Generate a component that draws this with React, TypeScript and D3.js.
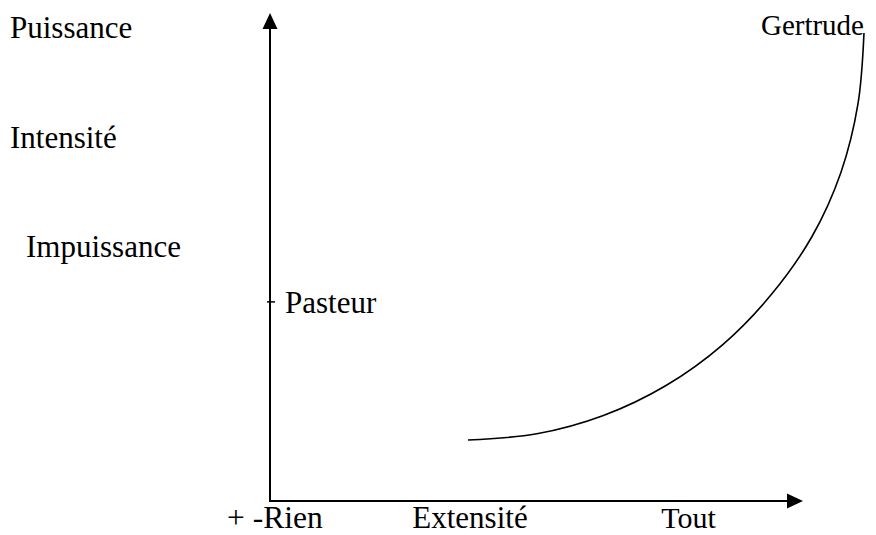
import { useEffect, useRef } from 'react';
import * as d3 from 'd3';

// Left-hand labels (vertical scale of power), baseline level on the y scale
const yLabels = ['Puissance', 'Intensité', 'Impuissance'];
const yLabelLevels = [9.49, 7.24, 5.01];

// Bottom labels (extent scale)
const xLabels = ['+ -Rien', 'Extensité', 'Tout'];
const xLabelPositions = [-0.806, 2.67, 7.34];

// Marked point on the vertical axis
const pasteurLevel = 4.08;

// Curve (x: extent 0..10, y: power 0..10)
const curveX = [3.715, 5.006, 6.255, 7.43, 8.49, 9.405, 10.169, 10.713, 11.032, 11.144];
const curveY = [1.25, 1.377, 1.752, 2.367, 3.201, 4.23, 5.42, 6.738, 8.141, 9.59];

export default function App() {
  const svgRef = useRef<SVGSVGElement>(null);
  const width = 876;
  const height = 535;

  useEffect(() => {
    if (!svgRef.current) return;
    const svg = d3.select(svgRef.current);
    svg.selectAll('*').remove();

    const x = d3.scaleLinear().domain([0, 10]).range([270, 803]);
    const y = d3.scaleLinear().domain([0, 10]).range([501, 13]);
    const font = "'Liberation Serif', 'Times New Roman', Times, serif";

    // Axes
    const arrowLen = 16;
    const arrowHalf = 7.5;
    svg.append('line')
      .attr('x1', x(0)).attr('y1', y(0))
      .attr('x2', x(0)).attr('y2', y(10) + arrowLen - 1)
      .attr('stroke', '#000').attr('stroke-width', 2);
    svg.append('path')
      .attr('d', `M${x(0)},${y(10)} L${x(0) - arrowHalf},${y(10) + arrowLen} L${x(0) + arrowHalf},${y(10) + arrowLen} Z`)
      .attr('fill', '#000');
    svg.append('line')
      .attr('x1', x(0) - 1).attr('y1', y(0))
      .attr('x2', x(10) - arrowLen + 1).attr('y2', y(0))
      .attr('stroke', '#000').attr('stroke-width', 2);
    svg.append('path')
      .attr('d', `M${x(10)},${y(0)} L${x(10) - arrowLen},${y(0) - arrowHalf} L${x(10) - arrowLen},${y(0) + arrowHalf} Z`)
      .attr('fill', '#000');

    // Curve
    const pts: [number, number][] = curveX.map((v, i) => [v, curveY[i]]);
    const line = d3.line<[number, number]>()
      .x(d => x(d[0]))
      .y(d => y(d[1]))
      .curve(d3.curveCatmullRom);
    svg.append('path')
      .datum(pts)
      .attr('d', line)
      .attr('fill', 'none')
      .attr('stroke', '#000')
      .attr('stroke-width', 1.6);

    const text = (s: string, tx: number, ty: number, size: number, anchor = 'start') =>
      svg.append('text')
        .attr('x', tx).attr('y', ty)
        .attr('text-anchor', anchor)
        .style('font-family', font)
        .style('font-size', `${size}px`)
        .attr('fill', '#000')
        .text(s);

    // Left labels
    const leftX = [10, 10, 26];
    yLabels.forEach((s, i) => text(s, leftX[i], y(yLabelLevels[i]), 31));

    // Bottom labels (kept just inside the bottom edge)
    const bottomSize = [31.5, 31, 30];
    xLabels.forEach((s, i) => text(s, x(xLabelPositions[i]), 528, bottomSize[i]));

    // Pasteur tick + label
    svg.append('line')
      .attr('x1', x(0) - 3).attr('x2', x(0) + 5)
      .attr('y1', y(pasteurLevel)).attr('y2', y(pasteurLevel))
      .attr('stroke', '#000').attr('stroke-width', 1.5);
    text('Pasteur', x(0) + 15, y(pasteurLevel) + 11, 31);

    // Gertrude at the top of the curve
    text('Gertrude', 864, 35, 29, 'end');
  }, []);

  return (
    <svg
      ref={svgRef}
      width={width}
      height={height}
      style={{ position: 'absolute', left: 0, top: 0, background: '#fff' }}
    />
  );
}
